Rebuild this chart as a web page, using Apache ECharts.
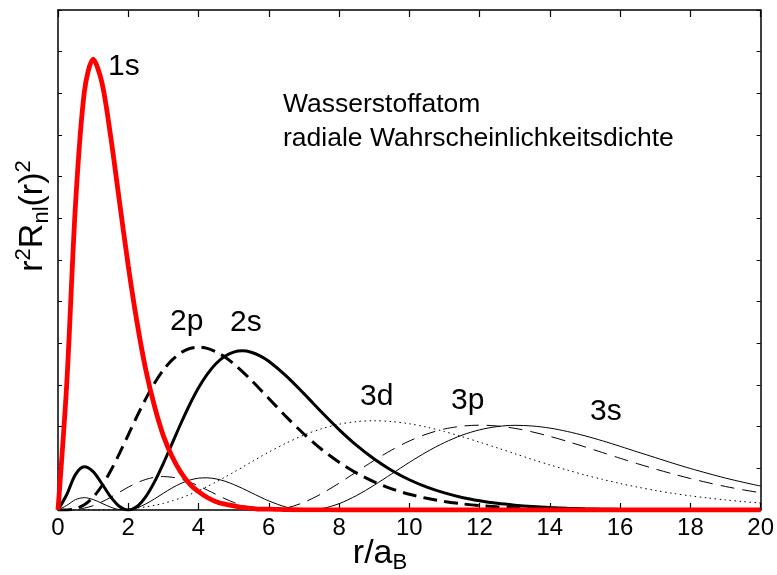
<!DOCTYPE html>
<html>
<head>
<meta charset="utf-8">
<script src="https://cdn.jsdelivr.net/npm/echarts@6/dist/echarts.min.js"></script>
<style>
  html, body { margin: 0; padding: 0; background: #fff; }
  #main { width: 777px; height: 575px; }
</style>
</head>
<body>
<div id="main"></div>
<script>
// r/a_B Stützstellen
const rValues = [0, 0.25, 0.5, 0.75, 1, 1.25, 1.5, 1.75, 2, 2.25, 2.5, 2.75, 3, 3.25, 3.5, 3.75, 4, 4.25, 4.5, 4.75, 5, 5.25, 5.5, 5.75, 6,
  6.5, 7, 7.5, 8, 8.5, 9, 9.5, 10, 10.5, 11, 11.5, 12, 12.5, 13, 13.5, 14, 14.5, 15, 15.5, 16, 16.5, 17, 17.5, 18, 18.5, 19, 19.5, 20];

// radiale Dichten
const density1s = [0, 0.152, 0.368, 0.502, 0.541, 0.513, 0.448, 0.370, 0.293, 0.225, 0.168, 0.124, 0.089, 0.064, 0.045, 0.031, 0.022, 0.015, 0.010, 0.007, 0.005, 0.003, 0.002, 0.001, 0.001,
  0.0004, 0.0002, 0.0001, 0, 0, 0, 0, 0, 0, 0, 0, 0, 0, 0, 0, 0, 0, 0, 0, 0, 0, 0, 0, 0, 0, 0, 0, 0];
const density2s = [0, 0.0186, 0.0427, 0.0519, 0.0460, 0.0315, 0.0157, 0.0042, 0, 0.0042, 0.0160, 0.0340, 0.0560, 0.0800, 0.1041, 0.1266, 0.1466, 0.1630, 0.1758, 0.1845, 0.1895, 0.1910, 0.1893, 0.1850, 0.1785,
  0.1607, 0.1397, 0.1176, 0.0965, 0.0775, 0.0612, 0.0475, 0.0363, 0.0274, 0.0205, 0.0151, 0.0111, 0.0080, 0.0058, 0.0041, 0.0029, 0.0021, 0.0015, 0.0010, 0.0007, 0.0005, 0.0003, 0.0002, 0.0002, 0.0001, 0.0001, 0.0001, 0];
const density2p = [0, 0.0001, 0.0016, 0.0062, 0.0153, 0.0291, 0.0471, 0.0679, 0.0902, 0.1126, 0.1336, 0.1523, 0.1680, 0.1802, 0.1888, 0.1938, 0.1954, 0.1939, 0.1898, 0.1835, 0.1755, 0.1661, 0.1558, 0.1450, 0.1339,
  0.1118, 0.0912, 0.0729, 0.0573, 0.0443, 0.0337, 0.0254, 0.0189, 0.0140, 0.0102, 0.0074, 0.0053, 0.0038, 0.0027, 0.0019, 0.0013, 0.0009, 0.0007, 0.0005, 0.0003, 0.0002, 0.0002, 0.0001, 0.0001, 0.0001, 0, 0, 0];
const density3s = [0, 0.0055, 0.0125, 0.0148, 0.0126, 0.0080, 0.0034, 0.0005, 0.0002, 0.0026, 0.0073, 0.0134, 0.0201, 0.0265, 0.0319, 0.0359, 0.0382, 0.0386, 0.0373, 0.0346, 0.0306, 0.0259, 0.0208, 0.0157, 0.0109,
  0.0034, 0.0001, 0.0016, 0.0076, 0.0174, 0.0298, 0.0434, 0.0571, 0.0699, 0.0809, 0.0898, 0.0962, 0.1001, 0.1016, 0.1008, 0.0983, 0.0942, 0.0890, 0.0830, 0.0764, 0.0696, 0.0629, 0.0562, 0.0498, 0.0439, 0.0383, 0.0333, 0.0287];
const density3p = [0, 0.00004, 0.0006, 0.0022, 0.0052, 0.0097, 0.0153, 0.0214, 0.0274, 0.0327, 0.0367, 0.0393, 0.0401, 0.0393, 0.0370, 0.0334, 0.0289, 0.0239, 0.0187, 0.0136, 0.0091, 0.0053, 0.0024, 0.0006, 0,
  0.0024, 0.0092, 0.0195, 0.0322, 0.0459, 0.0595, 0.0720, 0.0828, 0.0912, 0.0972, 0.1006, 0.1018, 0.1008, 0.0980, 0.0937, 0.0884, 0.0823, 0.0757, 0.0689, 0.0621, 0.0555, 0.0492, 0.0433, 0.0378, 0.0328, 0.0282, 0.0242, 0.0207];
const density3d = [0, 0, 0, 0, 0.00004, 0.0001, 0.0003, 0.0007, 0.0014, 0.0024, 0.0038, 0.0056, 0.0080, 0.0110, 0.0145, 0.0186, 0.0231, 0.0282, 0.0336, 0.0394, 0.0453, 0.0514, 0.0575, 0.0636, 0.0695,
  0.0804, 0.0899, 0.0975, 0.1029, 0.1061, 0.1071, 0.1061, 0.1035, 0.0994, 0.0941, 0.0880, 0.0814, 0.0746, 0.0676, 0.0607, 0.0541, 0.0479, 0.0420, 0.0367, 0.0318, 0.0274, 0.0235, 0.0200, 0.0170, 0.0144, 0.0121, 0.0101, 0.0084];

const xTicks = [0, 2, 4, 6, 8, 10, 12, 14, 16, 18, 20];

const FONT = "'Liberation Sans', Arial, sans-serif";

const chartDom = document.getElementById("main");
const myChart = echarts.init(chartDom);

const pairs = (ys) => rValues.map((r, i) => [r, ys[i]]);

const lineSeries = (name, ys, color, width, type) => ({
  name: name,
  type: "line",
  data: pairs(ys),
  showSymbol: false,
  smooth: 0.3,
  silent: true,
  lineStyle: { color: color, width: width, type: type },
});

const frameAxis = {
  axisLine: { show: true, onZero: false, lineStyle: { color: "#000", width: 1.5 } },
  splitLine: { show: false },
};

const option = {
  animation: false,
  backgroundColor: "#fff",
  grid: { left: 58, right: 9, top: 10, bottom: 65 },
  xAxis: [
    {
      ...frameAxis,
      type: "value",
      min: xTicks[0],
      max: xTicks[xTicks.length - 1],
      interval: 2,
      position: "bottom",
      axisTick: { show: true, inside: true, length: 7, lineStyle: { color: "#000", width: 1.2 } },
      axisLabel: { show: true, color: "#000", fontSize: 24, fontFamily: FONT, margin: 6, showMaxLabel: true, showMinLabel: true },
    },
    {
      ...frameAxis,
      type: "value",
      min: xTicks[0],
      max: xTicks[xTicks.length - 1],
      interval: 2,
      position: "top",
      axisTick: { show: true, inside: true, length: 7, lineStyle: { color: "#000", width: 1.2 } },
      axisLabel: { show: false },
    },
  ],
  yAxis: [
    {
      ...frameAxis,
      type: "value",
      min: 0,
      max: 0.6,
      interval: 0.05,
      position: "left",
      axisTick: { show: true, inside: true, length: 4, lineStyle: { color: "#000", width: 1 } },
      axisLabel: { show: false },
    },
    {
      ...frameAxis,
      type: "value",
      min: 0,
      max: 0.6,
      interval: 0.05,
      position: "right",
      axisTick: { show: true, inside: true, length: 4, lineStyle: { color: "#000", width: 1 } },
      axisLabel: { show: false },
    },
  ],
  series: [
    lineSeries("3d", density3d, "#000", 1, [1.5, 3.5]),
    lineSeries("3p", density3p, "#000", 1, [14, 8]),
    lineSeries("3s", density3s, "#000", 1, "solid"),
    lineSeries("2p", density2p, "#000", 3, [14, 7]),
    lineSeries("2s", density2s, "#000", 3, "solid"),
    lineSeries("1s", density1s, "#ff0000", 4.8, "solid"),
  ],
  graphic: [
    { type: "text", left: 108, top: 52, style: { text: "1s", font: "30px " + FONT, fill: "#000" } },
    { type: "text", left: 170, top: 307, style: { text: "2p", font: "30px " + FONT, fill: "#000" } },
    { type: "text", left: 230, top: 308, style: { text: "2s", font: "30px " + FONT, fill: "#000" } },
    { type: "text", left: 360, top: 382, style: { text: "3d", font: "30px " + FONT, fill: "#000" } },
    { type: "text", left: 451, top: 386, style: { text: "3p", font: "30px " + FONT, fill: "#000" } },
    { type: "text", left: 590, top: 397, style: { text: "3s", font: "30px " + FONT, fill: "#000" } },
    { type: "text", left: 283, top: 91, style: { text: "Wasserstoffatom", font: "26.5px " + FONT, fill: "#000" } },
    { type: "text", left: 283, top: 125, style: { text: "radiale Wahrscheinlichkeitsdichte", font: "26.5px " + FONT, fill: "#000" } },
    {
      type: "text",
      x: 380,
      y: 554,
      style: {
        text: "r/a{sub|B}",
        align: "center",
        verticalAlign: "middle",
        fill: "#000",
        font: "34px " + FONT,
        lineHeight: 40,
        rich: {
          sub: { fontSize: 22, fontFamily: FONT, verticalAlign: "bottom", lineHeight: 20, fill: "#000" },
        },
      },
    },
    {
      type: "text",
      x: 33,
      y: 216,
      rotation: Math.PI / 2,
      style: {
        text: "r{sup|2}R{sub|nl}(r){sup|2}",
        align: "center",
        verticalAlign: "middle",
        fill: "#000",
        font: "34px " + FONT,
        lineHeight: 40,
        rich: {
          sup: { fontSize: 22, fontFamily: FONT, verticalAlign: "top", lineHeight: 22, fill: "#000" },
          sub: { fontSize: 22, fontFamily: FONT, verticalAlign: "bottom", lineHeight: 20, fill: "#000" },
        },
      },
    },
  ],
};

option && myChart.setOption(option);
</script>
</body>
</html>
